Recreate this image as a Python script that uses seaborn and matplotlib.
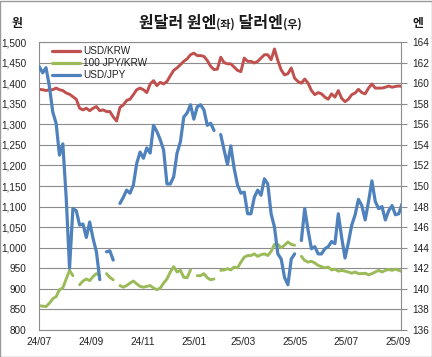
import pandas as pd
import matplotlib
matplotlib.use('Agg')
import matplotlib.pyplot as plt
import matplotlib.dates as mdates
from matplotlib.ticker import FuncFormatter, MultipleLocator
from matplotlib.lines import Line2D
from matplotlib.patches import Rectangle
from matplotlib.offsetbox import TextArea, HPacker, AnchoredOffsetbox
import seaborn as sns

sns.set_style('white')
plt.rcParams['font.family'] = ['Liberation Sans', 'Noto Sans CJK KR', 'DejaVu Sans']

# sample dates (every 4 days)
dates = pd.date_range('2024-07-01', periods=109, freq='4D')
NaN = float('nan')

usd_krw = [1385, 1384, 1382, 1384, 1384, 1388, 1384, 1382, 1376, 1373,
           1367, 1361, 1339, 1335, 1339, 1333, 1339, 1343, 1333, 1335,
           1331, 1331, 1318, 1308, 1341, 1347, 1358, 1361, 1372, 1384,
           1388, 1384, 1377, 1398, 1406, 1394, 1402, 1398, 1404, 1418,
           1431, 1437, 1445, 1453, 1459, 1469, 1473, 1467, 1467, 1465,
           1455, 1441, 1433, 1434, 1463, 1450, 1447, 1447, 1439, 1431,
           1428, 1461, 1453, 1453, 1449, 1453, 1461, 1469, 1469, 1457,
           1483, 1455, 1432, 1420, 1423, 1437, 1412, 1404, 1400, 1410,
           1400, 1382, 1372, 1377, 1374, 1366, 1361, 1374, 1366, 1382,
           1363, 1355, 1361, 1372, 1376, 1385, 1377, 1374, 1388, 1398,
           1388, 1388, 1388, 1390, 1393, 1390, 1392, 1393, 1392]

jpy100_krw = [859, 858, 857, 865, 876, 881, 898, 902, 924, 945,
              932, NaN, 910, 919, 924, 920, 930, 937, 933, NaN,
              937, 928, 922, NaN, 908, 904, 908, 914, 919, 912,
              906, 904, 906, 908, 902, 898, 902, 914, 924, 941,
              954, 941, 945, 928, 927, 946, NaN, 932, 932, 937,
              927, 922, 924, NaN, 945, 946, 949, 946, 953, 951,
              965, 977, 981, 981, 985, 979, 983, 985, 981, 991,
              1008, 1008, 1000, 1006, 1014, 1008, 1006, NaN, 979, 969,
              965, 967, 963, 957, 954, 951, 953, 946, 948, 943,
              945, 943, 941, 938, 941, 937, 937, 938, 934, 937,
              941, 945, 941, 945, 947, 945, 948, 945, 942]

usd_jpy = [161.6, 161.0, 161.5, 159.7, 157.2, 156.1, 153.0, 154.1, 148.9, 142.0,
           147.8, 147.6, 146.2, 146.3, 145.0, 146.5, 144.9, 143.6, 140.9, NaN,
           143.6, 143.7, 142.8, NaN, 148.3, 148.9, 149.6, 149.3, 150.1, 152.2,
           153.3, 152.7, 153.7, 153.2, 155.9, 155.3, 154.5, 153.5, 150.2, 150.2,
           150.9, 153.2, 154.3, 156.7, 157.1, 157.9, 156.5, 157.7, 157.9, 157.4,
           155.9, 156.1, 155.4, NaN, 155.0, 153.5, 152.1, 153.9, 151.7, 150.1,
           149.3, 149.4, 147.3, 147.3, 148.9, 149.6, 149.1, 150.7, 150.2, 147.3,
           146.0, 143.4, 142.9, 141.1, 140.4, 142.9, 143.4, NaN, 144.7, 147.8,
           145.7, 143.9, 144.1, 143.4, 143.4, 143.9, 144.1, 144.6, 144.4, 147.3,
           145.0, 143.0, 144.5, 146.2, 147.2, 148.7, 148.1, 146.7, 148.5, 150.5,
           148.5, 147.8, 148.0, 146.7, 147.6, 148.1, 147.2, 147.3, 148.3]

colors = {'USD/KRW': '#C0504D', '100 JPY/KRW': '#9BBB59', 'USD/JPY': '#4F81BD'}
grid_c = '#8c8c8c'
text_c = '#222222'


def segments(name, values):
    s = pd.Series(values, dtype=float)
    df = pd.DataFrame({'date': dates, 'value': s, 'series': name,
                       'seg': s.isna().cumsum()})
    return df.dropna(subset=['value'])


left_df = pd.concat([segments('USD/KRW', usd_krw),
                     segments('100 JPY/KRW', jpy100_krw)])
right_df = segments('USD/JPY', usd_jpy)

fig = plt.figure(figsize=(4.32, 3.57), dpi=100)
ax = fig.add_axes([39.3 / 432, 1 - 330 / 357, 362 / 432, 288 / 357])

sns.lineplot(data=left_df, x='date', y='value', hue='series', units='seg',
             estimator=None, palette=colors, linewidth=2.1, legend=False,
             solid_joinstyle='round', solid_capstyle='round', ax=ax)
ax2 = ax.twinx()
sns.lineplot(data=right_df, x='date', y='value', hue='series', units='seg',
             estimator=None, palette=colors, linewidth=2.3, legend=False,
             solid_joinstyle='round', solid_capstyle='round', ax=ax2)

ax.set_xlim(pd.Timestamp('2024-07-01'), pd.Timestamp('2025-09-05'))
ax.set_ylim(800, 1500)
ax2.set_ylim(136, 164)
ax.yaxis.set_major_locator(MultipleLocator(50))
ax.yaxis.set_major_formatter(FuncFormatter(lambda v, p: f'{v:,.0f}'))
ax2.yaxis.set_major_locator(MultipleLocator(2))
ax.xaxis.set_major_locator(mdates.MonthLocator(bymonth=[1, 3, 5, 7, 9, 11]))
ax.xaxis.set_major_formatter(mdates.DateFormatter('%y/%m'))

for a in (ax, ax2):
    a.set_xlabel('')
    a.set_ylabel('')
ax.grid(axis='y', color=grid_c, linewidth=0.8)
ax.set_axisbelow(True)
for sp in ax.spines.values():
    sp.set_color(grid_c)
    sp.set_linewidth(0.8)
for sp in ax2.spines.values():
    sp.set_visible(False)

ax.tick_params(axis='y', left=False, length=0, pad=9, labelsize=7.2, labelcolor=text_c)
ax.tick_params(axis='x', direction='in', length=3.5, width=0.8, color=grid_c,
               pad=5, labelsize=7.2, labelcolor=text_c)
ax2.tick_params(axis='y', direction='out', length=4, width=0.8, color=grid_c,
                pad=4, labelsize=7.2, labelcolor=text_c)

handles = [Line2D([], [], color=colors[k], linewidth=2.3) for k in colors]
ax2.legend(handles, list(colors), loc='upper left', bbox_to_anchor=(0.034, 0.985),
           frameon=False, borderpad=0, borderaxespad=0, handlelength=2.8,
           handletextpad=0.35, labelspacing=0.2, fontsize=7.2, labelcolor=text_c)

# title with small (좌)/(우)
kr = ['Noto Sans CJK KR', 'DejaVu Sans']
parts = [('원달러 원엔', 11.5), ('(좌)', 8), (' 달러엔', 11.5), ('(우)', 8)]
box = HPacker(children=[TextArea(t, textprops=dict(fontsize=s, fontweight='bold',
                                                   family=kr, color='#1a1a1a'))
                        for t, s in parts],
              align='baseline', pad=0, sep=0)
title = AnchoredOffsetbox(loc='center', child=box, pad=0, frameon=False,
                          bbox_to_anchor=(0.509, 1 - 23 / 357),
                          bbox_transform=fig.transFigure, borderpad=0)
fig.add_artist(title)

fig.text(17 / 432, 1 - 23 / 357, '원', ha='center', va='center', fontsize=8.5,
         fontweight='bold', family=kr, color='#1a1a1a')
fig.text(418 / 432, 1 - 23 / 357, '엔', ha='center', va='center', fontsize=8.5,
         fontweight='bold', family=kr, color='#1a1a1a')

fig.patches.append(Rectangle((0.001, 0.001), 0.998, 0.997, transform=fig.transFigure,
                             fill=False, edgecolor='#9a9a9a', linewidth=1))

fig.savefig('out.png', dpi=100)
